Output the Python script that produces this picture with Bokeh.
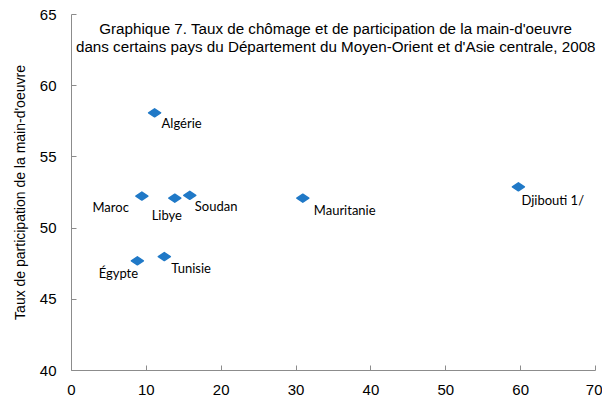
from bokeh.plotting import figure
from bokeh.models import ColumnDataSource, Label, LabelSet, Range1d, FixedTicker
from bokeh.embed import file_html
from bokeh.resources import INLINE
from bokeh.core.properties import value

countries = ["Algérie", "Maroc", "Libye", "Soudan", "Égypte", "Tunisie", "Mauritanie", "Djibouti 1/"]
unemployment = [11.1, 9.4, 13.8, 15.8, 8.8, 12.4, 30.9, 59.7]
participation = [58.1, 52.25, 52.1, 52.3, 47.7, 48.0, 52.1, 52.9]
x_ticks = [0, 10, 20, 30, 40, 50, 60, 70]
y_ticks = [40, 45, 50, 55, 60, 65]
title_lines = ["Graphique 7. Taux de chômage et de participation de la main-d'oeuvre",
               "dans certains pays du Département du Moyen-Orient et d'Asie centrale, 2008"]
y_label = "Taux de participation de la main-d'oeuvre"

# label placement (style)
lab_dx = [7, -13, -8, 5, -19, 7, 11, 3]
lab_dy = [-10, -11, -17, -11, -12, -11, -12, -13]
lab_align = ["left", "right", "center", "left", "center", "left", "left", "left"]

src = ColumnDataSource(dict(x=unemployment, y=participation, name=countries,
                            dx=lab_dx, dy=lab_dy, align=lab_align))

p = figure(width=602, height=400, output_backend="svg", toolbar_location=None,
           x_range=Range1d(0, 70), y_range=Range1d(40, 65),
           min_border_left=71, min_border_right=7, min_border_top=14, min_border_bottom=30)
p.outline_line_color = None
p.grid.visible = False
p.background_fill_color = "white"

axis_col = "#8c8c8c"
for ax in (p.xaxis[0], p.yaxis[0]):
    ax.axis_line_color = axis_col
    ax.major_tick_line_color = axis_col
    ax.major_tick_in = 5
    ax.major_tick_out = 0
    ax.minor_tick_line_color = None
    ax.major_label_text_font = "Liberation Sans"
    ax.major_label_text_font_size = "15px"
    ax.major_label_text_color = "black"

p.xaxis[0].ticker = FixedTicker(ticks=x_ticks)
p.yaxis[0].ticker = FixedTicker(ticks=y_ticks)
p.xaxis[0].major_label_standoff = 14
p.yaxis[0].major_label_standoff = 15
p.yaxis[0].axis_label = y_label
p.yaxis[0].axis_label_text_font = "Liberation Sans"
p.yaxis[0].axis_label_text_font_size = "14px"
p.yaxis[0].axis_label_text_font_style = "normal"
p.yaxis[0].axis_label_text_color = "black"
p.yaxis[0].axis_label_standoff = 9

p.scatter("x", "y", source=src, marker="diamond", size=12, angle=1.5708,
          fill_color="#2079c7", line_color="#2079c7", line_width=1.5, line_join="round")

labels = LabelSet(x="x", y="y", text="name", source=src, x_offset="dx", y_offset="dy",
                  text_align="align", text_baseline="middle",
                  text_font=value("Lato"), text_font_size="13px", text_color="black")
p.add_layout(labels)

for i, t in enumerate(title_lines):
    p.add_layout(Label(x=35.3, y=64.0 - i * 1.23, text=t, text_align="center",
                       text_baseline="middle", text_font="Liberation Sans",
                       text_font_size="15.2px", text_color="black"))

open("out.html", "w").write(file_html(p, INLINE))
